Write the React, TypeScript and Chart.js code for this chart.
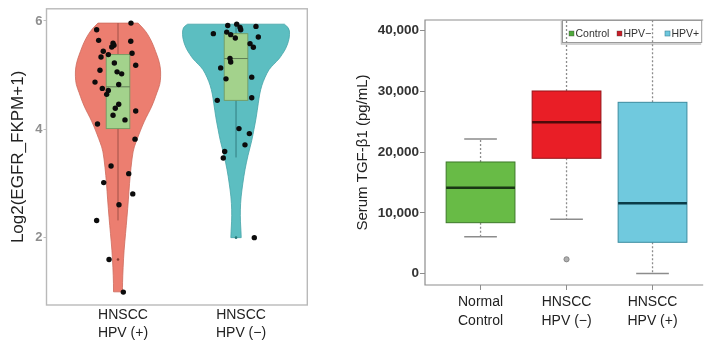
import React, { useEffect, useRef } from 'react';
import { Chart, registerables } from 'chart.js';

Chart.register(...registerables);

const FONT = "'Liberation Sans', Arial, Helvetica, sans-serif";

// ---------- Left panel: EGFR violin plot ----------
const violinCategories = [['HNSCC', 'HPV (+)'], ['HNSCC', 'HPV (−)']];
const violinTicks = [2, 4, 6];
const violinColors = ['rgb(236,126,112)', 'rgb(92,190,193)'];
const violinEdges = ['rgb(205,105,92)', 'rgb(70,165,168)'];
const violinWhiskerColors = ['rgb(160,80,70)', 'rgb(50,125,128)'];

// jitter points: [horizontal jitter, value]
const hpvPosPoints: [number, number][] = [
  [-0.181, 5.838], [-0.164, 5.642], [0.11, 5.96], [0.108, 5.624], [-0.042, 5.587], [-0.034, 5.55],
  [-0.053, 5.519], [-0.125, 5.44], [-0.082, 5.379], [0.119, 5.403], [-0.144, 5.335], [-0.031, 5.225],
  [0.15, 5.183], [-0.153, 5.091], [-0.008, 5.06], [0.031, 5.023], [-0.195, 4.871], [0.006, 4.828],
  [-0.133, 4.755], [-0.082, 4.718], [-0.096, 4.645], [0.006, 4.461], [-0.023, 4.388], [-0.042, 4.259],
  [0.059, 4.173], [0.15, 4.338], [-0.174, 4.099], [0.144, 3.818], [-0.059, 3.322], [0.091, 3.181],
  [-0.121, 3.016], [0.125, 2.808], [0.008, 2.606], [-0.181, 2.318], [-0.076, 1.596], [0.045, 0.995],
];
const hpvNegPoints: [number, number][] = [
  [-0.192, 5.765], [-0.07, 5.917], [0.006, 5.941], [0.034, 5.881], [0.04, 5.838], [0.169, 5.899],
  [-0.079, 5.794], [-0.045, 5.747], [-0.006, 5.684], [0.189, 5.703], [0.119, 5.581], [0.147, 5.513],
  [-0.051, 5.306], [-0.045, 5.243], [-0.13, 5.133], [-0.085, 4.931], [0.133, 4.962], [-0.159, 4.534],
  [0.133, 4.582], [0.025, 4.013], [0.113, 3.921], [0.076, 3.713], [-0.096, 3.59], [-0.108, 3.469],
  [0.155, 2.0],
];
// violin outline: [value, half width]
const hpvPosViolin: [number, number][] = [
  [5.96, 0.17], [5.85, 0.22], [5.746, 0.254], [5.6, 0.29], [5.44, 0.318], [5.28, 0.345], [5.133, 0.36],
  [4.98, 0.362], [4.828, 0.356], [4.68, 0.33], [4.522, 0.305], [4.37, 0.275], [4.215, 0.237],
  [4.06, 0.205], [3.91, 0.178], [3.75, 0.15], [3.603, 0.127], [3.3, 0.11], [2.997, 0.097],
  [2.7, 0.088], [2.373, 0.076], [2.079, 0.064], [1.767, 0.051], [1.45, 0.043], [1.161, 0.038], [1.0, 0.038],
];
const hpvNegViolin: [number, number][] = [
  [5.94, 0.41], [5.88, 0.45], [5.75, 0.455], [5.62, 0.445], [5.48, 0.42], [5.38, 0.39], [5.3, 0.365],
  [5.2, 0.32], [5.11, 0.28], [4.96, 0.245], [4.81, 0.218], [4.65, 0.2], [4.5, 0.19], [4.2, 0.17],
  [4.0, 0.152], [3.8, 0.135], [3.51, 0.1], [3.25, 0.075], [3.01, 0.058], [2.75, 0.042], [2.51, 0.036],
  [2.3, 0.037], [2.13, 0.042], [2.0, 0.044],
];
// box stats: [lower whisker, q1, median, q3, upper whisker]
const hpvPosBox = [2.318, 4.013, 4.784, 5.379, 5.96];
const hpvNegBox = [3.48, 4.534, 5.306, 5.765, 5.941];
const violinOutliers = [{ x: 0, y: 1.596 }, { x: 1, y: 2.0 }];

// ---------- Right panel: serum TGF-β1 box plot ----------
const tgfCategories = [['Normal', 'Control'], ['HNSCC', 'HPV (−)'], ['HNSCC', 'HPV (+)']];
const tgfTicks = [0, 10000, 20000, 30000, 40000];
const tgfLower = [6060, 8930, 0];
const tgfQ1 = [8370, 18980, 5140];
const tgfMedian = [14135, 24910, 11565];
const tgfQ3 = [18370, 30066, 28200];
const tgfUpper = [22160, 45000, 45000];
const tgfOutliers = [{ x: 1, y: 2340 }];
const tgfLegend = ['Control', 'HPV−', 'HPV+'];
const tgfLegendColors = ['rgb(80,170,60)', 'rgb(200,30,40)', 'rgb(110,200,222)'];
const tgfColors = ['rgb(104,187,70)', 'rgb(233,30,38)', 'rgb(112,201,222)'];
const tgfBorders = ['rgb(60,120,40)', 'rgb(150,20,25)', 'rgb(60,140,160)'];
const tgfMedianColors = ['rgb(25,55,20)', 'rgb(80,10,10)', 'rgb(10,60,72)'];

function smoothTo(ctx: CanvasRenderingContext2D, pts: number[][]) {
  ctx.lineTo(pts[0][0], pts[0][1]);
  for (let i = 1; i < pts.length - 1; i++) {
    const mx = (pts[i][0] + pts[i + 1][0]) / 2;
    const my = (pts[i][1] + pts[i + 1][1]) / 2;
    ctx.quadraticCurveTo(pts[i][0], pts[i][1], mx, my);
  }
  const last = pts[pts.length - 1];
  ctx.lineTo(last[0], last[1]);
}

function drawViolin(ctx: CanvasRenderingContext2D, xs: any, ys: any, c: number, profile: [number, number][], fill: string, edge: string) {
  const right = profile.map(([v, w]) => [xs.getPixelForValue(c + w), ys.getPixelForValue(v)]);
  const left = profile.map(([v, w]) => [xs.getPixelForValue(c - w), ys.getPixelForValue(v)]).reverse();
  ctx.beginPath();
  ctx.moveTo(left[left.length - 1][0], left[left.length - 1][1]);
  smoothTo(ctx, right);
  smoothTo(ctx, left);
  ctx.closePath();
  ctx.fillStyle = fill;
  ctx.fill();
  ctx.strokeStyle = edge;
  ctx.lineWidth = 0.8;
  ctx.stroke();
}

const violinPlugin = {
  id: 'violins',
  beforeDatasetsDraw(chart: any) {
    const { ctx, chartArea: a, scales } = chart;
    const xs = scales.x;
    const ys = scales.y;
    ctx.save();
    ctx.strokeStyle = '#b9b9b9';
    ctx.lineWidth = 1.4;
    ctx.strokeRect(a.left, a.top, a.right - a.left, a.bottom - a.top);
    const profiles = [hpvPosViolin, hpvNegViolin];
    const boxes = [hpvPosBox, hpvNegBox];
    profiles.forEach((p, i) => {
      drawViolin(ctx, xs, ys, i, p, violinColors[i], violinEdges[i]);
    });
    boxes.forEach((b, i) => {
      const cx = xs.getPixelForValue(i);
      ctx.strokeStyle = violinWhiskerColors[i];
      ctx.lineWidth = 1;
      ctx.beginPath();
      ctx.moveTo(cx, ys.getPixelForValue(b[4]));
      ctx.lineTo(cx, ys.getPixelForValue(b[0]));
      ctx.stroke();
      const x0 = xs.getPixelForValue(i - 0.1);
      const x1 = xs.getPixelForValue(i + 0.1);
      const yq3 = ys.getPixelForValue(b[3]);
      const yq1 = ys.getPixelForValue(b[1]);
      ctx.fillStyle = 'rgb(163,210,140)';
      ctx.fillRect(x0, yq3, x1 - x0, yq1 - yq3);
      ctx.strokeStyle = 'rgb(115,155,100)';
      ctx.lineWidth = 0.9;
      ctx.strokeRect(x0, yq3, x1 - x0, yq1 - yq3);
      const ym = ys.getPixelForValue(b[2]);
      ctx.strokeStyle = 'rgb(95,125,85)';
      ctx.lineWidth = 1;
      ctx.beginPath();
      ctx.moveTo(x0, ym);
      ctx.lineTo(x1, ym);
      ctx.stroke();
    });
    ctx.restore();
  },
};

const boxPlugin = {
  id: 'tgfBoxes',
  beforeDatasetsDraw(chart: any) {
    const { ctx, chartArea: a, scales } = chart;
    const xs = scales.x;
    const ys = scales.y;
    ctx.save();
    // frame (top, left, bottom)
    ctx.strokeStyle = '#8d8d8d';
    ctx.lineWidth = 1.2;
    ctx.beginPath();
    ctx.moveTo(a.right + 2, a.top);
    ctx.lineTo(a.left, a.top);
    ctx.lineTo(a.left, a.bottom);
    ctx.lineTo(a.right + 2, a.bottom);
    ctx.stroke();

    // legend
    const lx = a.left + 137;
    const ly = a.top;
    ctx.fillStyle = '#ffffff';
    ctx.fillRect(lx, ly, a.right - lx, 22.5);
    ctx.strokeStyle = '#9a9a9a';
    ctx.lineWidth = 1;
    ctx.strokeRect(lx + 0.5, ly + 0.5, a.right - lx, 22);
    ctx.strokeStyle = 'rgba(120,120,120,0.45)';
    ctx.lineWidth = 1.5;
    ctx.beginPath();
    ctx.moveTo(lx - 0.5, ly + 1);
    ctx.lineTo(lx - 0.5, ly + 24);
    ctx.lineTo(a.right, ly + 24);
    ctx.stroke();
    const itemX = [lx + 7, lx + 55, lx + 103];
    ctx.font = `10.5px ${FONT}`;
    ctx.textBaseline = 'middle';
    ctx.textAlign = 'left';
    tgfLegend.forEach((t, i) => {
      ctx.fillStyle = tgfLegendColors[i];
      ctx.fillRect(itemX[i], ly + 11, 5, 5);
      ctx.strokeStyle = i === 2 ? 'rgb(60,130,150)' : 'rgba(60,60,60,0.6)';
      ctx.lineWidth = 0.6;
      ctx.strokeRect(itemX[i], ly + 11, 5, 5);
      ctx.fillStyle = '#333';
      ctx.fillText(t, itemX[i] + 6.5, ly + 13.8);
    });

    ctx.beginPath();
    ctx.rect(a.left, a.top, a.right - a.left, a.bottom - a.top);
    ctx.clip();
    tgfCategories.forEach((_, i) => {
      const cx = xs.getPixelForValue(i);
      const yLo = ys.getPixelForValue(tgfLower[i]);
      const yQ1 = ys.getPixelForValue(tgfQ1[i]);
      const yMd = ys.getPixelForValue(tgfMedian[i]);
      const yQ3 = ys.getPixelForValue(tgfQ3[i]);
      const yHi = ys.getPixelForValue(tgfUpper[i]);
      // whiskers
      ctx.strokeStyle = '#8c8c8c';
      ctx.lineWidth = 1.3;
      ctx.setLineDash([2, 2]);
      ctx.beginPath();
      ctx.moveTo(cx, yQ3);
      ctx.lineTo(cx, yHi);
      ctx.moveTo(cx, yQ1);
      ctx.lineTo(cx, yLo);
      ctx.stroke();
      ctx.setLineDash([]);
      const c0 = xs.getPixelForValue(i - 0.19);
      const c1 = xs.getPixelForValue(i + 0.19);
      ctx.lineWidth = 1.5;
      ctx.beginPath();
      ctx.moveTo(c0, yLo);
      ctx.lineTo(c1, yLo);
      if (tgfUpper[i] < ys.max) {
        ctx.moveTo(c0, yHi);
        ctx.lineTo(c1, yHi);
      }
      ctx.stroke();
      // box
      const b0 = xs.getPixelForValue(i - 0.4);
      const b1 = xs.getPixelForValue(i + 0.4);
      ctx.fillStyle = tgfColors[i];
      ctx.fillRect(b0, yQ3, b1 - b0, yQ1 - yQ3);
      ctx.strokeStyle = tgfBorders[i];
      ctx.lineWidth = 1;
      ctx.strokeRect(b0, yQ3, b1 - b0, yQ1 - yQ3);
      ctx.strokeStyle = tgfMedianColors[i];
      ctx.lineWidth = 2.6;
      ctx.beginPath();
      ctx.moveTo(b0, yMd);
      ctx.lineTo(b1, yMd);
      ctx.stroke();
    });
    ctx.restore();
  },
};

export default function App() {
  const leftRef = useRef<HTMLCanvasElement>(null);
  const rightRef = useRef<HTMLCanvasElement>(null);

  useEffect(() => {
    const left = new Chart(leftRef.current!, {
      type: 'scatter',
      data: {
        datasets: [
          {
            data: hpvPosPoints.map(([dx, v]) => ({ x: 0 + dx, y: v })),
            pointRadius: 2.7,
            backgroundColor: '#0c0c0c',
            borderWidth: 0,
          },
          {
            data: hpvNegPoints.map(([dx, v]) => ({ x: 1 + dx, y: v })),
            pointRadius: 2.7,
            backgroundColor: '#0c0c0c',
            borderWidth: 0,
          },
          {
            data: violinOutliers,
            pointRadius: 1.3,
            backgroundColor: ['rgb(140,60,50)', 'rgb(40,120,120)'],
            borderWidth: 0,
          },
        ],
      },
      options: {
        animation: false,
        responsive: false,
        events: [],
        layout: { padding: { top: 7.3, right: 12.7, left: 0, bottom: 0 } },
        plugins: { legend: { display: false }, tooltip: { enabled: false } },
        scales: {
          x: {
            type: 'linear',
            min: -0.606,
            max: 1.604,
            afterBuildTicks: (s: any) => {
              s.ticks = [0, 1].map((v) => ({ value: v }));
            },
            afterFit: (s: any) => {
              s.height = 42;
            },
            ticks: {
              callback: (_v: any, i: number) => violinCategories[i],
              font: { size: 14, family: FONT, lineHeight: 18 / 14 },
              color: '#222',
              padding: 1,
              labelOffset: 5,
              maxRotation: 0,
              autoSkip: false,
            },
            grid: { display: false, drawTicks: false },
            border: { display: false },
          },
          y: {
            type: 'linear',
            min: 0.757,
            max: 6.224,
            afterBuildTicks: (s: any) => {
              s.ticks = violinTicks.map((v) => ({ value: v }));
            },
            afterFit: (s: any) => {
              s.width = 46.5;
            },
            ticks: {
              font: { size: 13, family: FONT, weight: 'bold' },
              color: '#8e8e8e',
              padding: 1,
            },
            grid: { drawOnChartArea: false, tickLength: 3, color: '#bdbdbd' },
            border: { display: false },
            title: {
              display: true,
              text: 'Log2(EGFR_FKPM+1)',
              font: { size: 17, family: FONT },
              color: '#222',
              padding: { top: 8, bottom: 0 },
            },
          },
        },
      },
      plugins: [violinPlugin],
    } as any);

    const right = new Chart(rightRef.current!, {
      type: 'scatter',
      data: {
        datasets: [
          {
            data: tgfOutliers,
            pointRadius: 2.6,
            backgroundColor: 'rgb(175,175,175)',
            borderColor: 'rgb(120,120,120)',
            borderWidth: 0.8,
          },
        ],
      },
      options: {
        animation: false,
        responsive: false,
        events: [],
        layout: { padding: { top: 20, right: 0, left: 0, bottom: 0 } },
        plugins: { legend: { display: false }, tooltip: { enabled: false } },
        scales: {
          x: {
            type: 'linear',
            min: -0.646,
            max: 2.566,
            afterBuildTicks: (s: any) => {
              s.ticks = tgfCategories.map((_, i) => ({ value: i }));
            },
            afterFit: (s: any) => {
              s.height = 62;
            },
            ticks: {
              callback: (_v: any, i: number) => tgfCategories[i],
              font: { size: 14, family: FONT, lineHeight: 19 / 14 },
              color: '#222',
              padding: 3,
              maxRotation: 0,
              autoSkip: false,
            },
            grid: { drawOnChartArea: false, tickLength: 5, color: '#8d8d8d' },
            border: { display: false },
          },
          y: {
            type: 'linear',
            min: -1895,
            max: 41760,
            afterBuildTicks: (s: any) => {
              s.ticks = tgfTicks.map((v) => ({ value: v }));
            },
            afterFit: (s: any) => {
              s.width = 85;
            },
            ticks: {
              callback: (v: any) => Number(v).toLocaleString('en-US'),
              font: { size: 13.5, family: FONT, weight: 'bold' },
              color: '#333',
              padding: 1,
            },
            grid: { drawOnChartArea: false, tickLength: 5, color: '#8d8d8d' },
            border: { display: false },
            title: {
              display: true,
              text: 'Serum TGF-β1 (pg/mL)',
              font: { size: 15, family: FONT },
              color: '#222',
              padding: { top: 14, bottom: 0 },
            },
          },
        },
      },
      plugins: [boxPlugin],
    } as any);

    return () => {
      left.destroy();
      right.destroy();
    };
  }, []);

  return (
    <div style={{ position: 'absolute', left: 0, top: 0, width: 706, height: 347, background: '#fff', overflow: 'hidden' }}>
      <canvas ref={leftRef} width={320} height={347} style={{ position: 'absolute', left: 0, top: 0, width: 320, height: 347 }} />
      <canvas ref={rightRef} width={366} height={347} style={{ position: 'absolute', left: 340, top: 0, width: 366, height: 347 }} />
    </div>
  );
}
